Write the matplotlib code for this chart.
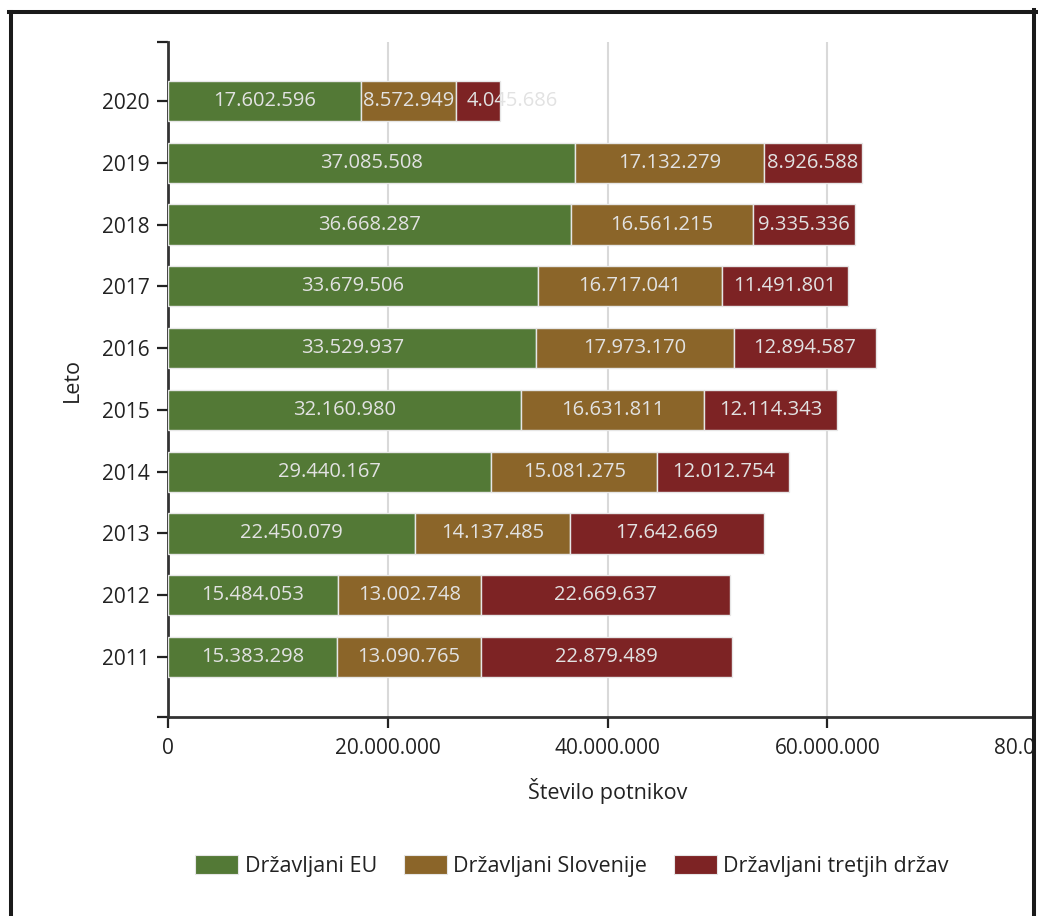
import matplotlib
matplotlib.use("Agg")
import matplotlib.pyplot as plt
from matplotlib.lines import Line2D
from matplotlib.patches import Rectangle, Patch
from matplotlib.transforms import offset_copy

plt.rcParams['font.family'] = ['Open Sans', 'DejaVu Sans']

years = ['2011', '2012', '2013', '2014', '2015', '2016', '2017', '2018', '2019', '2020']
eu = [15383298, 15484053, 22450079, 29440167, 32160980, 33529937, 33679506, 36668287, 37085508, 17602596]
slo = [13090765, 13002748, 14137485, 15081275, 16631811, 17973170, 16717041, 16561215, 17132279, 8572949]
third = [22879489, 22669637, 17642669, 12012754, 12114343, 12894587, 11491801, 9335336, 8926588, 4045686]
series_names = ['Državljani EU', 'Državljani Slovenije', 'Državljani tretjih držav']
series_colors = ['#537936', '#8B6529', '#7D2324']
xticks = [0, 20000000, 40000000, 60000000, 80000000]
xlabel = 'Število potnikov'
ylabel = 'Leto'

W, H = 1038, 916
fig = plt.figure(figsize=(W / 100, H / 100), dpi=100)
ax = fig.add_axes([168 / W, 199 / H, 879 / W, 675 / H])

def fmt(v):
    return f"{v:,}".replace(',', '.')

ypos = list(range(len(years)))
left = [0] * len(years)
labels = []  # (text, bar patch, segment index)
nseg = 3
for si, (vals, name, col) in enumerate(zip([eu, slo, third], series_names, series_colors)):
    bars = ax.barh(ypos, vals, left=left, height=0.65, color=col, edgecolor='#E6E6E6',
                   linewidth=1.0, label=name, zorder=3)
    for y, l, v, b in zip(ypos, left, vals, bars):
        t = ax.text(l + v / 2, y, fmt(v), ha='center', va='center', fontsize=14.5,
                    color='#E2E2E2', zorder=4)
        labels.append((t, b, si, l, v, y))
    left = [a + b for a, b in zip(left, vals)]

ax.set_xlim(0, 80000000)
ax.set_ylim(-0.97, 9.955)
ax.set_xticks(xticks)
ax.set_xticklabels([fmt(t) for t in xticks])
ax.set_yticks(ypos)
ax.set_yticklabels(years)
ax.set_yticks([-0.97, 9.955], minor=True)
ax.tick_params(axis='both', which='both', length=8, width=1.6, color='#222222',
               labelsize=15, labelcolor='#222222', pad=5)
ax.tick_params(axis='x', pad=7)

ax.grid(axis='x', color='#D9D9D9', linewidth=1.5, zorder=0)
ax.set_axisbelow(True)
for s in ['top', 'right']:
    ax.spines[s].set_visible(False)
for s in ['left', 'bottom']:
    ax.spines[s].set_color('#333333')
    ax.spines[s].set_linewidth(2)

ax.set_xlabel(xlabel, fontsize=15.5, color='#222222', labelpad=14)
ax.set_ylabel(ylabel, fontsize=15.5, color='#222222', labelpad=14)

# labels that do not fit inside their segment: inner ones are right-aligned and
# clipped to the segment, the outer one starts just inside the segment
fig.canvas.draw()
renderer = fig.canvas.get_renderer()
for t, b, si, l, v, y in labels:
    tw = t.get_window_extent(renderer).width
    bw = b.get_window_extent(renderer).width
    if tw > bw + 1:
        if si < nseg - 1:
            t.set_x(l + v)
            t.set_ha('right')
            t.set_transform(offset_copy(ax.transData, fig=fig, x=-1, y=0, units='dots'))
            t.set_clip_path(b)
        else:
            t.set_x(l)
            t.set_ha('left')
            t.set_transform(offset_copy(ax.transData, fig=fig, x=11, y=0, units='dots'))

handles = [Patch(facecolor=c, edgecolor='#E6E6E6', linewidth=0.8) for c in series_colors]
fig.legend(handles, series_names, loc='center', bbox_to_anchor=(572 / W, 50 / H),
           ncol=3, frameon=False, fontsize=15.5, handlelength=2.0, handleheight=1.0,
           handletextpad=0.3, columnspacing=1.25, labelcolor='#222222')

# white margin beyond the frame and the frame itself
fig.add_artist(Rectangle((1036 / W, 0), 1 - 1036 / W, 1, transform=fig.transFigure,
                         facecolor='white', edgecolor='none', zorder=20))
lw = 2.9
fig.add_artist(Line2D([10.5 / W, 10.5 / W], [0, 1 - 11.5 / H], transform=fig.transFigure,
                      color='#1a1a1a', lw=lw, zorder=21))
fig.add_artist(Line2D([9 / W, 1035.5 / W], [1 - 11.5 / H, 1 - 11.5 / H], transform=fig.transFigure,
                      color='#1a1a1a', lw=lw, zorder=21))
fig.add_artist(Line2D([1034 / W, 1034 / W], [0, 1 - 10 / H], transform=fig.transFigure,
                      color='#1a1a1a', lw=lw, zorder=21))

fig.savefig('out.png', dpi=100)
